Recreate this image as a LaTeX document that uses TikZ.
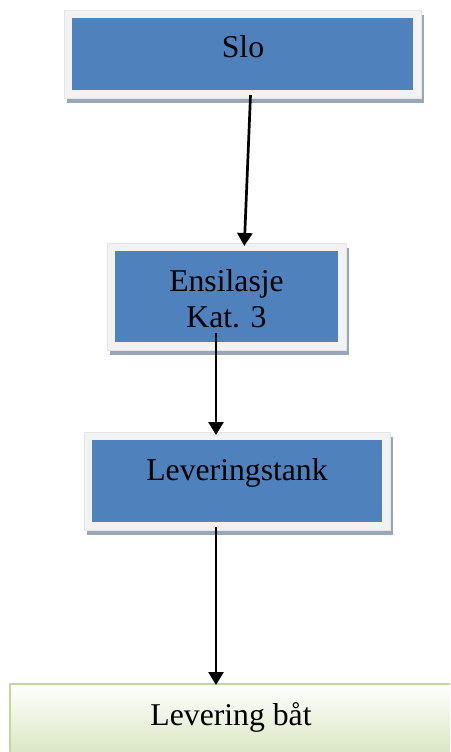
\documentclass[tikz,border=0pt]{standalone}
\usepackage{fontspec}
\setmainfont{Liberation Serif}
\usetikzlibrary{arrows.meta,calc,shadows}

\definecolor{boxblue}{HTML}{4F81BD}
\definecolor{framegray}{HTML}{F2F2F2}
\definecolor{framedraw}{HTML}{E4E4E4}
\definecolor{shadowc}{HTML}{98A6B8}
\definecolor{greenfill}{HTML}{D7E4BD}
\definecolor{greenline}{HTML}{C3D69B}

\tikzset{
  framebox/.style={rectangle, fill=framegray, draw=framedraw, line width=0.8pt,
    inner sep=0pt, outer sep=0pt,
    drop shadow={shadow xshift=3pt, shadow yshift=-5pt, fill=shadowc, opacity=1}},
  label/.style={anchor=base, inner sep=0pt,
    font=\fontsize{31.7}{36}\selectfont},
  flow/.style={line width=2.7pt, -{Triangle[width=15pt,length=13pt]}},
  shipbox/.style={rectangle, top color=white, bottom color=greenfill,
    draw=greenline, line width=2pt, inner sep=0pt, outer sep=0pt}
}

\begin{document}
\begin{tikzpicture}[x=1pt,y=-1pt]
  \useasboundingbox (0,0) rectangle (450,752);
  \clip (0,0) rectangle (450,752);

  % process boxes: light frame with a blue panel inset by 8pt
  \node[framebox, minimum width=357pt, minimum height=88pt] (slo) at (242.5,54) {};
  \node[framebox, minimum width=239pt, minimum height=107pt] (ens) at (226.5,296.5) {};
  \node[framebox, minimum width=306pt, minimum height=98pt] (tank) at (237,481) {};
  \foreach \b in {slo,ens,tank}
    \fill[boxblue] ($(\b.north west)+(8,8)$) rectangle ($(\b.south east)+(-8,-8)$);

  % final step, runs off the page
  \node[shipbox, minimum width=442pt, minimum height=76pt] (baat) at (231,722) {};

  % labels
  \node[label] at (243,58) {Slo};
  \node[label] at (226.5,291) {Ensilasje};
  \node[label] at (226.5,327) {Kat. 3};
  \node[label] at (237,480) {Leveringstank};
  \node[label] at (231,725) {Levering båt};

  % connectors
  \draw[flow] ($(slo.south)+(8,-3)$) -- ($(ens.north)+(17.8,3)$);
  \draw[flow] ($(ens.south)+(-10.5,-17)$) -- ($(tank.north)+(-21,3)$);
  \draw[flow] ($(tank.south)+(-21,-3)$) -- ($(baat.north)+(-15,1)$);
\end{tikzpicture}
\end{document}
